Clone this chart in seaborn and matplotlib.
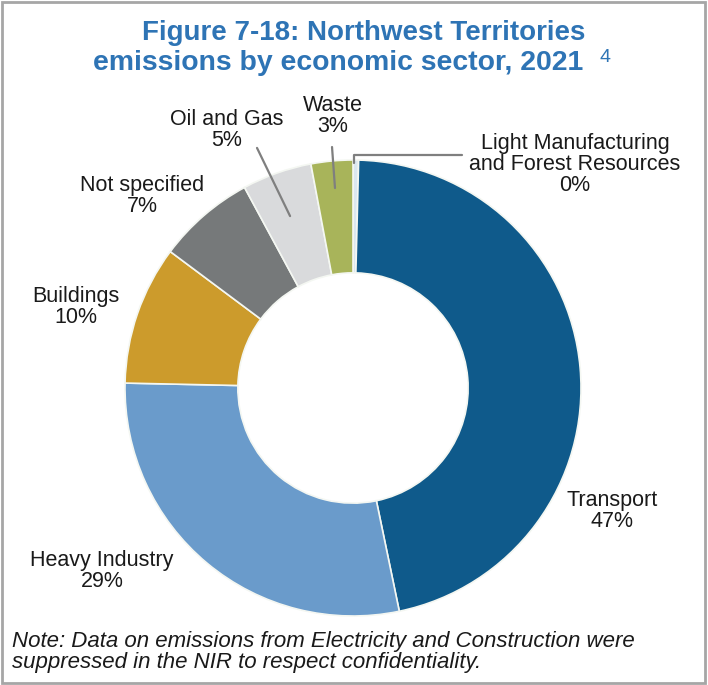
import matplotlib
matplotlib.use("Agg")
import matplotlib.pyplot as plt
import seaborn as sns

# Northwest Territories emissions by economic sector, 2021 (% of total)
sectors = ["Light Manufacturing\nand Forest Resources", "Transport", "Heavy Industry",
           "Buildings", "Not specified", "Oil and Gas", "Waste"]
shares = [0.4, 47, 29, 10, 7, 5, 3]
colors = ["#dbe7f0", "#0f5a8b", "#6a9bcb", "#cc9b2c", "#76797a", "#d9dadc", "#a8b45a"]

# label anchor points (pie data units, radius 1)
label_xy = [(0.974, 0.982), (1.136, -0.539), (-1.101, -0.803), (-1.215, 0.355),
            (-0.925, 0.842), (-0.553, 1.132), (-0.088, 1.193)]

sns.set_theme(style="white")
plt.rcParams["font.family"] = ["Liberation Sans", "DejaVu Sans"]

fig = plt.figure(figsize=(7.08, 6.85), dpi=100)
fig.patch.set_facecolor("white")

ax = fig.add_axes([125 / 708, 69 / 685, 456 / 708, 456 / 685])
wedges, _ = ax.pie(shares, colors=colors, startangle=90, counterclock=False,
                   radius=1.0,
                   wedgeprops=dict(width=0.495, edgecolor="#f4f7f2", linewidth=1.2))
ax.set_xlim(-1, 1)
ax.set_ylim(-1, 1)
ax.set_aspect("equal")
ax.axis("off")

for name, val, (x, y) in zip(sectors, shares, label_xy):
    ax.text(x, y, f"{name}\n{val:.0f}%", ha="center", va="center",
            fontsize=15.5, color="#1a1a1a", linespacing=1.0, clip_on=False)

# leader lines
lc = "#7f7f7f"
ax.plot([-0.421, -0.276], [1.053, 0.754], color=lc, lw=1.6, clip_on=False)
ax.plot([-0.092, -0.079], [1.057, 0.877], color=lc, lw=1.6, clip_on=False)
ax.plot([0.004, 0.004, 0.478], [0.985, 1.020, 1.020], color=lc, lw=1.6, clip_on=False)

# title
title_color = "#2e74b5"
fig.text(364 / 708, 1 - 33 / 685, "Figure 7-18: Northwest Territories", ha="center",
         va="center", fontsize=20, fontweight="bold", color=title_color)
fig.text(93 / 708, 1 - 63 / 685, "emissions by economic sector, 2021", ha="left",
         va="center", fontsize=20.4, fontweight="bold", color=title_color)
fig.text(599 / 708, 1 - 58 / 685, "4", ha="left", va="center",
         fontsize=14, color=title_color)

# note
fig.text(12 / 708, 1 - 652 / 685,
         "Note: Data on emissions from Electricity and Construction were\n"
         "suppressed in the NIR to respect confidentiality.",
         ha="left", va="center", fontsize=16, style="italic", color="#1a1a1a",
         linespacing=1.0)

# frame around the figure
frame = plt.Rectangle((2 / 708, 2 / 685), 703 / 708, 681 / 685, transform=fig.transFigure,
                      fill=False, edgecolor="#a6a6a6", linewidth=2)
fig.patches.append(frame)

fig.savefig("out.png", dpi=100)
